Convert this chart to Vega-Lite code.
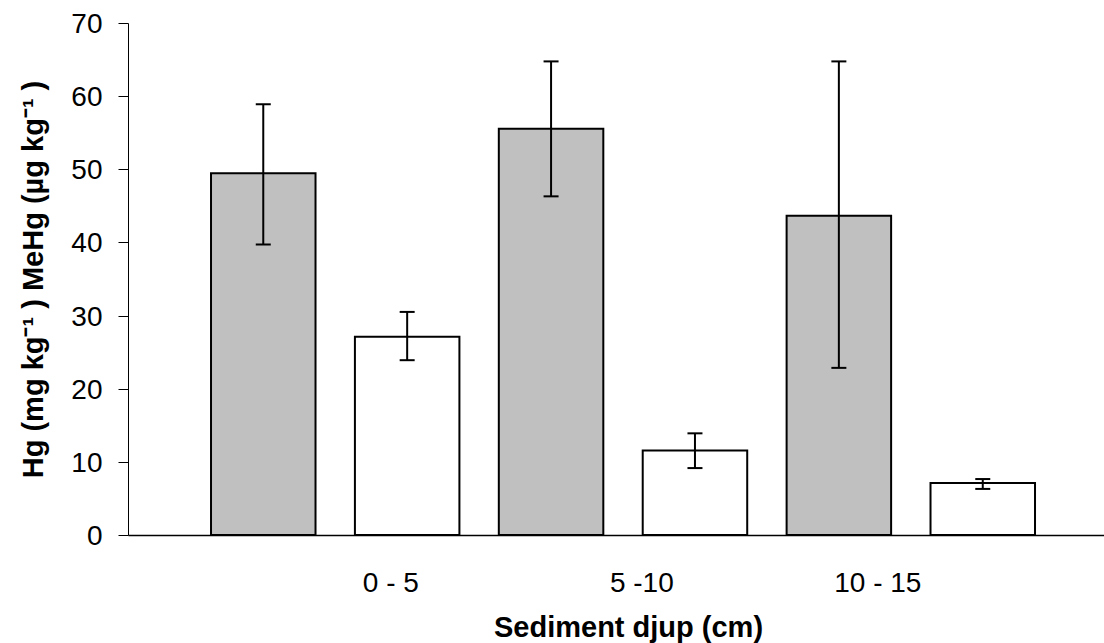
{
  "$schema": "https://vega.github.io/schema/vega-lite/v6.json",
  "autosize": {"type": "none"},
  "width": 976,
  "height": 512,
  "padding": {"left": 128, "top": 23, "right": 0, "bottom": 108},
  "background": "white",
  "config": {
    "view": {"stroke": null},
    "font": "Liberation Sans",
    "axisY": {
      "grid": false,
      "labelFontSize": 28,
      "labelColor": "black",
      "labelPadding": 16,
      "labelOffset": 1.5,
      "tickSize": 10,
      "tickColor": "black",
      "tickWidth": 1,
      "domainColor": "black",
      "domainWidth": 1,
      "titleFontSize": 29,
      "titleFontWeight": "bold",
      "titleColor": "black",
      "titleAngle": 270,
      "titleAlign": "center",
      "titleBaseline": "alphabetic",
      "titleX": -86,
      "titleY": 256
    },
    "axisX": {
      "grid": false,
      "ticks": false,
      "tickSize": 0,
      "labelFontSize": 28,
      "labelColor": "black",
      "labelPadding": 34,
      "labelOverlap": false,
      "labelFlush": false,
      "domainColor": "black",
      "domainWidth": 1.5,
      "titleFontSize": 29,
      "titleFontWeight": "bold",
      "titleColor": "black",
      "titleAlign": "center",
      "titleBaseline": "alphabetic",
      "titleX": 500,
      "titleY": 101
    }
  },
  "data": {
    "values": [
      {"depth": "0 - 5", "species": "Hg", "slot": 1, "mean": 49.45, "lo": 39.7, "hi": 58.9},
      {"depth": "0 - 5", "species": "MeHg", "slot": 2, "mean": 27.1, "lo": 23.9, "hi": 30.5},
      {"depth": "5 -10", "species": "Hg", "slot": 3, "mean": 55.55, "lo": 46.3, "hi": 64.75},
      {"depth": "5 -10", "species": "MeHg", "slot": 4, "mean": 11.55, "lo": 9.15, "hi": 13.9},
      {"depth": "10 - 15", "species": "Hg", "slot": 5, "mean": 43.65, "lo": 22.85, "hi": 64.75},
      {"depth": "10 - 15", "species": "MeHg", "slot": 6, "mean": 7.1, "lo": 6.3, "hi": 7.65}
    ]
  },
  "encoding": {
    "x": {
      "field": "slot",
      "type": "quantitative",
      "scale": {"domain": [0.06, 6.8425], "nice": false, "zero": false, "padding": 0},
      "axis": {
        "title": "Sediment djup (cm)",
        "values": [1.883, 3.627, 5.267],
        "labelExpr": "datum.value < 2.5 ? '0 - 5' : (datum.value < 4.5 ? '5 -10' : '10 - 15')"
      }
    }
  },
  "layer": [
    {
      "mark": {"type": "bar", "width": 104.5, "stroke": "black", "strokeWidth": 2},
      "encoding": {
        "y": {
          "field": "mean",
          "type": "quantitative",
          "scale": {"domain": [0, 70], "nice": false},
          "title": "Hg (mg kg⁻¹ ) MeHg (µg kg⁻¹ )",
          "axis": {"values": [0, 10, 20, 30, 40, 50, 60, 70]}
        },
        "fill": {
          "field": "species",
          "type": "nominal",
          "scale": {"domain": ["Hg", "MeHg"], "range": ["#C0C0C0", "#FFFFFF"]},
          "legend": null
        }
      }
    },
    {
      "mark": {"type": "rule", "color": "black", "strokeWidth": 2},
      "encoding": {
        "y": {"field": "lo", "type": "quantitative", "title": "Hg (mg kg⁻¹ ) MeHg (µg kg⁻¹ )", "axis": {"values": [0, 10, 20, 30, 40, 50, 60, 70]}},
        "y2": {"field": "hi"}
      }
    },
    {
      "mark": {"type": "tick", "orient": "horizontal", "size": 15, "thickness": 2, "color": "black", "opacity": 1},
      "encoding": {
        "y": {"field": "hi", "type": "quantitative", "title": "Hg (mg kg⁻¹ ) MeHg (µg kg⁻¹ )", "axis": {"values": [0, 10, 20, 30, 40, 50, 60, 70]}}
      }
    },
    {
      "mark": {"type": "tick", "orient": "horizontal", "size": 15, "thickness": 2, "color": "black", "opacity": 1},
      "encoding": {
        "y": {"field": "lo", "type": "quantitative", "title": "Hg (mg kg⁻¹ ) MeHg (µg kg⁻¹ )", "axis": {"values": [0, 10, 20, 30, 40, 50, 60, 70]}}
      }
    }
  ]
}
